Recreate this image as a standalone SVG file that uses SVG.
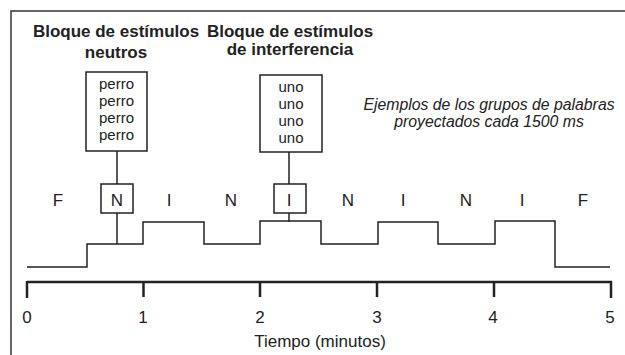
<svg xmlns="http://www.w3.org/2000/svg" width="625" height="355" viewBox="0 0 625 355">
<style>
text{font-family:"Liberation Sans",Arial,sans-serif;fill:#222}
.t{font-size:17px;font-weight:bold;text-anchor:middle}
.w{font-size:15px;text-anchor:middle}
.l{font-size:17px;text-anchor:middle}
.it{font-size:15.8px;font-style:italic;text-anchor:middle}
.box{fill:#fff;stroke:#222;stroke-width:1.5}
.ln{fill:none;stroke:#222;stroke-width:1.5}
</style>
<rect width="625" height="355" fill="#fff"/>
<path d="M11,360 V11 H630" fill="none" stroke="#333" stroke-width="1.5"/>
<g id="titulo-neutros"><text class="t" x="116" y="37">Bloque de estímulos</text><text class="t" x="116" y="58">neutros</text></g>
<g id="titulo-interferencia"><text class="t" x="290" y="37">Bloque de estímulos</text><text class="t" x="290" y="55">de interferencia</text></g>
<g id="caja-perro"><rect class="box" x="86" y="72" width="61" height="79"/><text class="w" x="116.5" y="89">perro</text><text class="w" x="116.5" y="106">perro</text><text class="w" x="116.5" y="123">perro</text><text class="w" x="116.5" y="140">perro</text></g>
<g id="caja-uno"><rect class="box" x="260" y="75" width="62" height="77"/><text class="w" x="291" y="92">uno</text><text class="w" x="291" y="109">uno</text><text class="w" x="291" y="126">uno</text><text class="w" x="291" y="143">uno</text></g>
<g id="nota"><text class="it" x="489" y="110">Ejemplos de los grupos de palabras</text><text class="it" x="489" y="127">proyectados cada 1500 ms</text></g>
<g id="conectores">
<path class="ln" d="M117,151 V184 M117,213 V244 M289,152 V184 M289,213 V222"/>
</g>
<g id="caja-N"><rect class="box" x="101" y="184" width="32" height="29"/><text class="l" x="117" y="206">N</text></g>
<g id="caja-I"><rect class="box" x="274" y="184" width="32" height="29"/><text class="l" x="289" y="206">I</text></g>
<g id="etiquetas">
<text class="l" x="58" y="206">F</text>
<text class="l" x="169" y="206">I</text>
<text class="l" x="231" y="206">N</text>
<text class="l" x="348" y="206">N</text>
<text class="l" x="403" y="206">I</text>
<text class="l" x="466" y="206">N</text>
<text class="l" x="522" y="206">I</text>
<text class="l" x="583" y="206">F</text>
</g>
<g id="senal"><path class="ln" d="M27,267 H87 V244 H143 V222 H204 V244 H260 V221 H321 V244 H378 V222 H438 V244 H495 V221 H555 V267 H610"/></g>
<g id="eje">
<path d="M27,282 H612" stroke="#222" stroke-width="2.5" fill="none"/>
<path d="M27,281 V298 M143.5,281 V297 M260,281 V297 M377,281 V297 M494,281 V297 M611,281 V298" stroke="#222" stroke-width="2.5" fill="none"/>
<text class="l" x="27" y="323">0</text>
<text class="l" x="143" y="323">1</text>
<text class="l" x="260" y="323">2</text>
<text class="l" x="377" y="323">3</text>
<text class="l" x="493" y="323">4</text>
<text class="l" x="610" y="323">5</text>
<text class="l" x="320" y="347" font-size="17.5">Tiempo (minutos)</text>
</g>
</svg>
